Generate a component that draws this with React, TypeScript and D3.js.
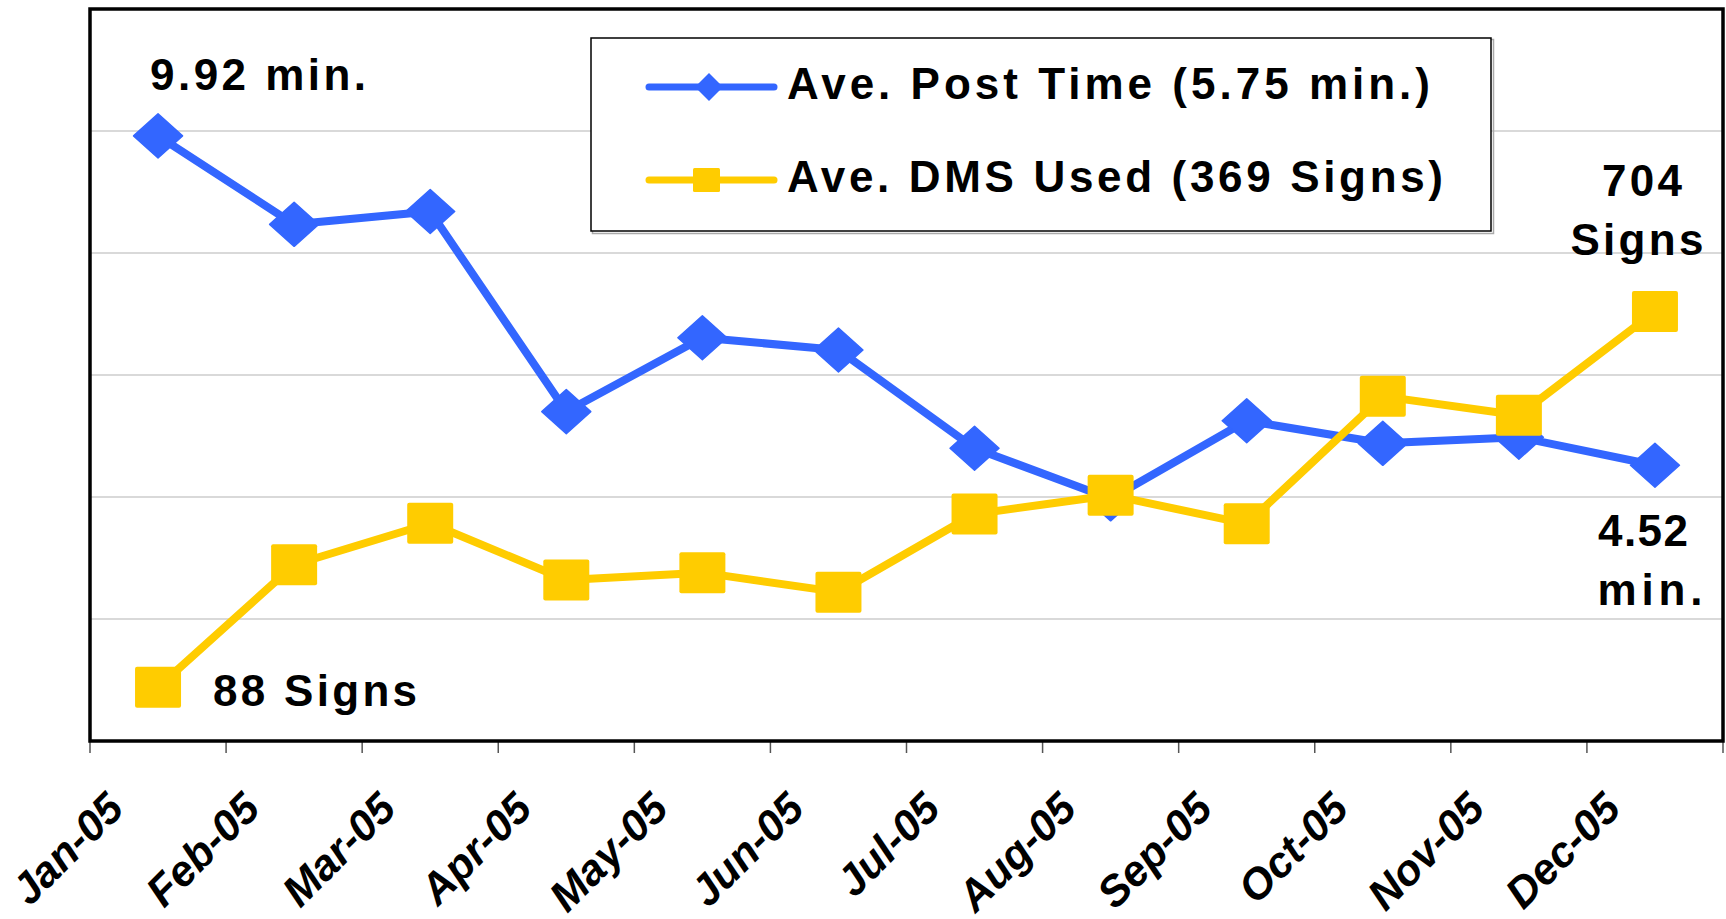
import React, { useEffect, useRef } from "react";
import * as d3 from "d3";

const months = ["Jan-05", "Feb-05", "Mar-05", "Apr-05", "May-05", "Jun-05", "Jul-05", "Aug-05", "Sep-05", "Oct-05", "Nov-05", "Dec-05"];
const postTime = [9.92, 8.47, 8.68, 5.4, 6.61, 6.41, 4.8, 3.97, 5.25, 4.88, 4.98, 4.52];
const dmsUsed = [88, 289, 357, 264, 276, 244, 372, 403, 356, 565, 534, 704];
const legendLabels = ["Ave. Post Time (5.75 min.)", "Ave. DMS Used (369 Signs)"];

const BLUE = "#3366ff";
const YELLOW = "#ffcc00";
const FONT = "'Liberation Sans', Arial, sans-serif";

const App = () => {
    const ref = useRef<SVGSVGElement>(null);

    useEffect(() => {
        const svg = d3.select(ref.current);
        svg.selectAll("*").remove();

        const left = 90, right = 1723, top = 9, bottom = 741;

        const x = d3.scaleBand().domain(months).range([left, right]);
        const cx = (m: string) => x(m)! + x.bandwidth() / 2;
        const yMin = d3.scaleLinear().domain([0, 12]).range([bottom, top]);
        const ySign = d3.scaleLinear().domain([0, 1200]).range([bottom, top]);

        // gridlines
        svg.append("g")
            .selectAll("line")
            .data(yMin.ticks(6).filter(t => t > 0 && t < 12))
            .enter().append("line")
            .attr("x1", left).attr("x2", right)
            .attr("y1", d => yMin(d)).attr("y2", d => yMin(d))
            .attr("stroke", "#cccccc").attr("stroke-width", 1.5);

        // x ticks
        const ticks = [...months.map(m => x(m)!), right];
        svg.append("g")
            .selectAll("line")
            .data(ticks)
            .enter().append("line")
            .attr("x1", d => d).attr("x2", d => d)
            .attr("y1", bottom).attr("y2", bottom + 12)
            .attr("stroke", "#555").attr("stroke-width", 1.5);

        // tick labels
        svg.append("g")
            .selectAll("text")
            .data(months)
            .enter().append("text")
            .attr("transform", d => `translate(${x(d)! + 36},${bottom + 70}) rotate(-45)`)
            .attr("text-anchor", "end")
            .attr("font-family", FONT)
            .attr("font-weight", "bold")
            .attr("font-style", "italic")
            .attr("font-size", 43)
            .text(d => d);

        // frame
        svg.append("rect")
            .attr("x", left).attr("y", top)
            .attr("width", right - left).attr("height", bottom - top)
            .attr("fill", "none").attr("stroke", "#000").attr("stroke-width", 3.5);

        const diamond = (w: number, h: number) => `M0,${-h}L${w},0L0,${h}L${-w},0Z`;

        // blue series
        const blueLine = d3.line<number>().x((_, i) => cx(months[i])).y(d => yMin(d));
        svg.append("path")
            .attr("d", blueLine(postTime))
            .attr("fill", "none").attr("stroke", BLUE).attr("stroke-width", 8)
            .attr("stroke-linejoin", "round");
        svg.append("g")
            .selectAll("path")
            .data(postTime)
            .enter().append("path")
            .attr("d", diamond(24.5, 22))
            .attr("transform", (d, i) => `translate(${cx(months[i])},${yMin(d)})`)
            .attr("fill", BLUE).attr("stroke", BLUE).attr("stroke-width", 1.5).attr("stroke-linejoin", "round");

        // yellow series
        const yellowLine = d3.line<number>().x((_, i) => cx(months[i])).y(d => ySign(d));
        svg.append("path")
            .attr("d", yellowLine(dmsUsed))
            .attr("fill", "none").attr("stroke", YELLOW).attr("stroke-width", 8)
            .attr("stroke-linejoin", "round");
        svg.append("g")
            .selectAll("rect")
            .data(dmsUsed)
            .enter().append("rect")
            .attr("x", (_, i) => cx(months[i]) - 23)
            .attr("y", d => ySign(d) - 20.5)
            .attr("width", 46).attr("height", 41).attr("rx", 2)
            .attr("fill", YELLOW);

        // annotations
        const label = (txt: string, tx: number, ty: number, anchor: string, len?: number) => {
            const t = svg.append("text")
                .attr("x", tx).attr("y", ty)
                .attr("text-anchor", anchor)
                .attr("font-family", FONT).attr("font-weight", "bold")
                .attr("font-size", 44)
                .text(txt);
            if (len) t.attr("textLength", len).attr("lengthAdjust", "spacing");
        };
        const j = months[0], dcm = months[11];
        label(`${postTime[0]} min.`, cx(j) - 8, yMin(postTime[0]) - 46, "start", 216);
        label(`${dmsUsed[0]} Signs`, cx(j) + 55, ySign(dmsUsed[0]) + 19, "start", 204);
        label(`${dmsUsed[11]}`, cx(dcm) - 13, ySign(dmsUsed[11]) - 116, "middle", 80);
        label("Signs", cx(dcm) - 18, ySign(dmsUsed[11]) - 57, "middle", 133);
        label(`${postTime[11]}`, cx(dcm) - 12, yMin(postTime[11]) + 81, "middle", 90);
        label("min.", cx(dcm) - 5, yMin(postTime[11]) + 140, "middle", 105);

        // legend
        const lg = svg.append("g");
        lg.append("rect")
            .attr("x", 592.5).attr("y", 39.5).attr("width", 901).attr("height", 194)
            .attr("fill", "none").attr("stroke", "#aaa").attr("stroke-width", 1.5);
        lg.append("rect")
            .attr("x", 591).attr("y", 38).attr("width", 900).attr("height", 193)
            .attr("fill", "#fff").attr("stroke", "#000").attr("stroke-width", 1.5);
        const rows = [87, 180];
        const lens = [643, 656];
        legendLabels.forEach((name, i) => {
            const yy = rows[i];
            lg.append("line")
                .attr("x1", 649).attr("x2", 774).attr("y1", yy).attr("y2", yy)
                .attr("stroke", i === 0 ? BLUE : YELLOW).attr("stroke-width", 7)
                .attr("stroke-linecap", "round");
            if (i === 0) {
                lg.append("path").attr("d", diamond(14, 14))
                    .attr("transform", `translate(709,${yy})`).attr("fill", BLUE);
            } else {
                lg.append("rect").attr("x", 693).attr("y", yy - 12)
                    .attr("width", 27).attr("height", 24).attr("rx", 1.5).attr("fill", YELLOW);
            }
            lg.append("text")
                .attr("x", 787).attr("y", yy + 12)
                .attr("font-family", FONT).attr("font-weight", "bold")
                .attr("font-size", 44)
                .attr("textLength", lens[i]).attr("lengthAdjust", "spacing")
                .text(name);
        });
    }, []);

    return (
        <div style={{ position: "absolute", left: 0, top: 0 }}>
            <svg ref={ref} width={1726} height={919} style={{ display: "block", background: "#fff" }} />
        </div>
    );
};

export default App;
